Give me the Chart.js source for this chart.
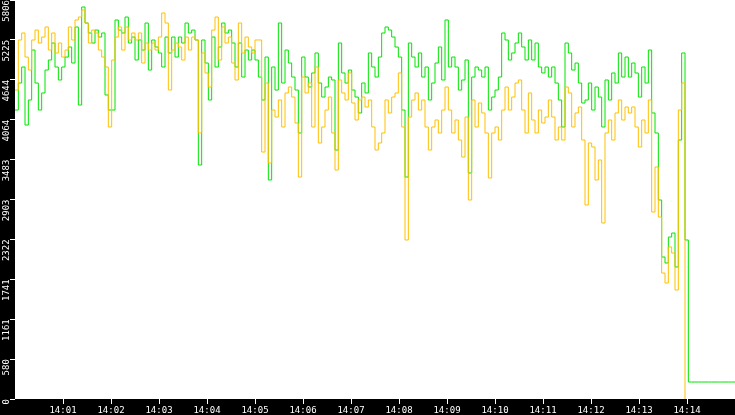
<!DOCTYPE html>
<html lang="en">
<head>
  <meta charset="UTF-8" />
  <title>14:00 - 14:15</title>
  <script src="https://cdn.jsdelivr.net/npm/chart.js"></script>
  <style>
    html, body {
      margin: 0;
      padding: 0;
      background: #000;
    }
    #wrap {
      width: 735px;
      height: 415px;
    }
  </style>
</head>
<body>
  <div id="wrap"><canvas id="rateChart"></canvas></div>

  <script>
    // one reading every ~4.2 s starting at 14:00:00
    const sampleSec = 25 / 6;

    const yTicks = [0, 580, 1161, 1741, 2322, 2903, 3483, 4064, 4644, 5225, 5806];
    const minuteLabels = ['14:01', '14:02', '14:03', '14:04', '14:05', '14:06', '14:07',
      '14:08', '14:09', '14:10', '14:11', '14:12', '14:13', '14:14'];

    const orangeValues = [
      4496, 5224, 5326, 4976, 4787, 5224, 5369, 5180, 5267, 5413,
      5078, 5326, 5035, 5180, 4976, 5078, 5413, 5224, 5515, 5558,
      5660, 5471, 5180, 5369, 5326, 5078, 4976, 4831, 3958, 4933,
      5267, 5413, 5078, 5413, 5224, 5326, 5224, 5326, 4889, 5180,
      5078, 5180, 5078, 5267, 5617, 5471, 4496, 5078, 5180, 5122,
      4933, 5267, 5078, 5267, 5224, 3871, 5035, 4744, 4540, 5369,
      5558, 4933, 5413, 5180, 5267, 4889, 4642, 5471, 5035, 5267,
      5122, 5035, 5224, 5224, 3594, 4598, 3434, 4205, 4103, 4351,
      3958, 4453, 4540, 4394, 4016, 3230, 4685, 4453, 4598, 3958,
      4831, 3725, 3958, 4205, 4394, 3871, 3332, 4642, 4453, 4351,
      4744, 4307, 4060, 4351, 4394, 4249, 4351, 3958, 3623, 3725,
      3871, 4351, 4162, 4394, 4453, 4744, 3958, 2314, 4103, 4351,
      4453, 4205, 4351, 3958, 3623, 3958, 4060, 3871, 4205, 4540,
      4205, 3871, 4060, 3769, 3521, 4103, 2896, 4351, 3958, 4307,
      4162, 3871, 3216, 3871, 3958, 3769, 4205, 4540, 4205, 4394,
      4598, 4642, 4205, 3871, 4453, 4060, 3871, 4205, 4016, 4103,
      4351, 4103, 3769, 3958, 3769, 4540, 4453, 3958, 4162, 4249,
      3769, 2823, 3725, 3667, 3187, 3478, 2561, 3871, 4060, 3769,
      4162, 4351, 4060, 4249, 4162, 4249, 3958, 3667, 4060, 3871,
      4351, 2721, 3376, 2648, 1833, 1688, 2212, 2124, 1586, 4205,
      4598, 0
    ];

    const greenValues = [
      4205, 4598, 4831, 3987, 4351, 5078, 4598, 4205, 4453, 4787,
      4933, 5180, 4831, 4642, 4831, 4976, 5122, 4889, 5413, 4278,
      5704, 5471, 5326, 5180, 5369, 5267, 5326, 4424, 4205, 4205,
      5515, 5369, 5326, 5558, 5180, 5267, 4933, 5224, 5078, 5471,
      4787, 5224, 5122, 5035, 4831, 5267, 5035, 5267, 4976, 5267,
      5180, 5471, 5326, 5369, 5224, 3405, 5224, 4889, 4351, 5267,
      4831, 5122, 5471, 5326, 5369, 5180, 4831, 5180, 4685, 5078,
      4933, 5078, 4933, 4685, 4351, 4976, 3187, 4831, 4496, 5471,
      4598, 5078, 4889, 4685, 4496, 3871, 4976, 4685, 4540, 4744,
      5035, 4598, 4394, 4540, 4685, 4642, 3623, 5180, 4744, 4598,
      4787, 4496, 4394, 4162, 4598, 4453, 5035, 4831, 4685, 4976,
      5326, 5413, 5369, 5267, 5122, 4976, 4205, 3230, 5180, 4976,
      4831, 5035, 4685, 4831, 4351, 4598, 4889, 5122, 4642, 5515,
      4831, 4976, 4831, 4496, 4642, 4933, 3289, 4685, 4831, 4787,
      4685, 4831, 4205, 4394, 4496, 4685, 5326, 5224, 4933, 5035,
      5180, 5326, 5122, 4933, 5224, 4933, 5180, 4831, 4744, 4831,
      4685, 4831, 4598, 4351, 3958, 5180, 5035, 4787, 4889, 4598,
      4307, 4351, 4598, 4205, 4540, 4394, 3958, 4642, 4351, 4744,
      4598, 5035, 4685, 4976, 4685, 4889, 4744, 4394, 4831, 4598,
      5078, 4162, 3871, 2896, 2066, 1979, 2357, 2415, 1921, 3769,
      5035, 2314, 247, 247, 247, 247, 247, 247, 247, 247,
      247, 247, 247, 247, 247, 247, 247
    ];

    const toPoints = vals => vals.map((v, i) => ({ x: i * sampleSec, y: v }));

    // black frame around a white plot area
    const framePlugin = {
      id: 'frame',
      beforeDraw(chart) {
        const { ctx, chartArea: a } = chart;
        ctx.save();
        ctx.fillStyle = '#000';
        ctx.fillRect(0, 0, chart.width, chart.height);
        ctx.fillStyle = '#fff';
        ctx.fillRect(a.left, a.top, a.right - a.left, a.bottom - a.top);
        ctx.restore();
      }
    };

    const tickFont = { family: 'DejaVu Sans Mono', size: 9 };

    new Chart(document.getElementById('rateChart'), {
      type: 'line',
      data: {
        datasets: [
          {
            data: toPoints(orangeValues),
            borderColor: '#ffc000',
            borderWidth: 1,
            stepped: true,
            pointRadius: 0,
            fill: false
          },
          {
            data: toPoints(greenValues),
            borderColor: '#00e400',
            borderWidth: 1,
            stepped: true,
            pointRadius: 0,
            fill: false
          }
        ]
      },
      options: {
        responsive: true,
        maintainAspectRatio: false,
        devicePixelRatio: 1,
        animation: false,
        layout: { padding: 0 },
        plugins: {
          legend: { display: false },
          tooltip: { enabled: false }
        },
        scales: {
          x: {
            type: 'linear',
            min: 0,
            max: 900,
            border: { display: false },
            grid: { drawOnChartArea: false, color: '#fff', tickLength: 5 },
            ticks: {
              color: '#fff',
              font: tickFont,
              padding: 1,
              autoSkip: false,
              maxRotation: 0,
              callback: (value, index) => minuteLabels[index]
            },
            afterBuildTicks: s => {
              s.ticks = minuteLabels.map((l, i) => ({ value: (i + 1) * 60 }));
            },
            afterFit: s => {
              s.height = 16;
              s.paddingLeft = 0;
              s.paddingRight = 0;
            }
          },
          y: {
            min: 0,
            max: 5806,
            border: { display: false },
            grid: { drawOnChartArea: false, color: '#fff', tickLength: 5 },
            ticks: {
              color: '#fff',
              font: tickFont,
              padding: 3,
              autoSkip: false,
              minRotation: 90,
              maxRotation: 90,
              callback: (value, index) => String(yTicks[index])
            },
            afterBuildTicks: s => {
              s.ticks = yTicks.map(v => ({ value: v }));
            },
            afterFit: s => {
              s.width = 15;
              s.paddingTop = 0;
              s.paddingBottom = 0;
            }
          }
        }
      },
      plugins: [framePlugin]
    });
  </script>
</body>
</html>
